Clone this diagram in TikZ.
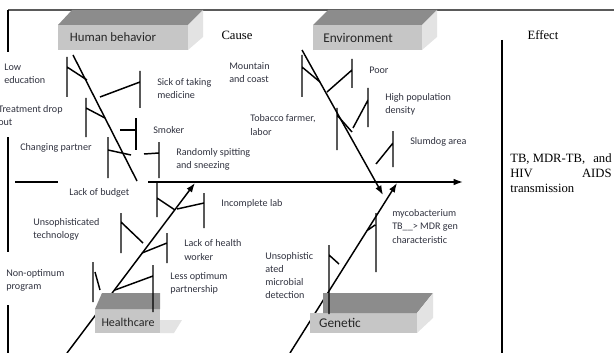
\documentclass[tikz,border=0pt]{standalone}
\usepackage{fontspec}
\setmainfont{Carlito}
\newfontfamily\timesfont{Liberation Serif}
\usepackage{xcolor}
\usepackage{tikz}
\usetikzlibrary{calc}
\usetikzlibrary{arrows.meta}
\usetikzlibrary{positioning}

\definecolor{topgray}{HTML}{8C8C8C}
\definecolor{frontgray}{HTML}{C6C6C6}
\definecolor{sidegray}{HTML}{E3E3E3}
\definecolor{labelblue}{HTML}{30323F}
\definecolor{framegray}{HTML}{5A5A5A}

\begin{document}
\begin{tikzpicture}[x=0.75pt,y=-0.75pt]
% 1 = one pixel of the reference, y going down
    \def\YSPINE{182}
    \def\XFRAME{8}
    \def\XEFFECT{502}

    \tikzset{
      bone/.style={line width=1.1pt,color=black},
      arrowbone/.style={bone,-{Latex[length=7pt,width=5pt]}},
      framestyle/.style={line width=1.5pt,color=framegray},
      cause/.style={font=\fontsize{7.6}{9.8}\selectfont,text=labelblue,
        align=left,anchor=west,inner sep=0pt},
      boxtitle/.style={font=\fontsize{10}{12}\selectfont,text=black!85,
        inner sep=0pt},
      serifnote/.style={font=\timesfont\fontsize{9.5}{11}\selectfont,
        inner sep=0pt},
    }

    \useasboundingbox (0,0) rectangle (614,353);

    % FRAME
    \draw[framestyle] (\XFRAME,10) -- (614,10);
    \draw[framestyle,color=black] (\XFRAME,10) -- (\XFRAME,52);
    \draw[framestyle,color=black] (\XFRAME,137) -- (\XFRAME,252);
    \draw[framestyle,color=black] (\XFRAME,305) -- (\XFRAME,353);
    \draw[framestyle,color=black] (\XEFFECT,40) -- (\XEFFECT,353);

    % SPINE
    \coordinate (spinestart) at (148,\YSPINE);
    \coordinate (effecttip) at (463,\YSPINE);
    \draw[bone] (15,\YSPINE) -- (58,\YSPINE);
    \draw[arrowbone] (spinestart) -- (effecttip);

    % DIAGONALS
    \coordinate (humantop) at (73,55);
    \coordinate (humanend) at (137,181);
    \coordinate (envtop) at (302,50);
    \coordinate (envtip) at (383,195);
    \coordinate (healthfoot) at (67,353);
    \coordinate (healthtip) at (195,183);
    \coordinate (genfoot) at (290,353);
    \coordinate (gentip) at (397,183);
    \draw[bone] (humantop) -- (humanend);
    \draw[arrowbone] (envtop) -- (envtip);
    \draw[arrowbone] (healthfoot) -- (healthtip);
    \draw[arrowbone] (genfoot) -- (gentip);

    % HUMAN BEHAVIOR box
    \fill[frontgray] (58,25) rectangle (188,50);
    \fill[topgray] (58,25) -- (72,10) -- (203,10) -- (188,25) -- cycle;
    \fill[sidegray] (188,25) -- (203,10) -- (203,37) -- (188,50) -- cycle;
    \node[boxtitle,font=\fontsize{9.6}{12}\selectfont] (human) at (113,37.5) {Human behavior};

    % ENVIRONMENT box
    \fill[frontgray] (313,25) rectangle (422,50);
    \fill[topgray] (313,25) -- (328,10) -- (437,10) -- (422,25) -- cycle;
    \fill[sidegray] (422,25) -- (437,10) -- (437,37) -- (422,50) -- cycle;
    \node[boxtitle] (environment) at (358,38) {Environment};

    % HEALTHCARE box
    \fill[frontgray] (95,309) rectangle (160,333);
    \fill[topgray] (95,309) -- (102,293) -- (160,293) -- (160,309) -- cycle;
    \fill[sidegray] (160,320) -- (182,320) -- (174,333) -- (160,333) -- cycle;
    \node[boxtitle,font=\fontsize{9}{12}\selectfont] (healthcare) at (128,322) {Healthcare};

    % GENETIC box
    \fill[frontgray] (310,313) rectangle (417,333);
    \fill[topgray] (323,313) -- (323,293) -- (433,293) -- (417,313) -- cycle;
    \fill[sidegray] (417,313) -- (433,293) -- (433,318) -- (417,333) -- cycle;
    \node[boxtitle] (genetic) at (340,323) {Genetic};

    % HUMAN BEHAVIOR bones
    \draw[bone] (67,57) -- (67,97) (67,67) -- (87,80);
    \draw[bone] (140,71) -- (140,108) (100,97) -- (140,82);
    \draw[bone] (86,98) -- (86,137) (86,108) -- (105,118);
    \draw[bone] (136,118) -- (136,150) (120,130) -- (136,130);
    \draw[bone] (108,137) -- (108,178) (108,150) -- (131,155);
    \draw[bone] (159,142) -- (159,178) (144,154) -- (159,153);

    % ENVIRONMENT bones
    \draw[bone] (302,55) -- (302,97) (302,67) -- (320,82);
    \draw[bone] (352,59) -- (352,88) (327,92) -- (352,70);
    \draw[bone] (337,108) -- (337,150) (337,115) -- (352,132);
    \draw[bone] (368,88) -- (368,127) (353,128) -- (368,100);
    \draw[bone] (393,131) -- (393,167) (376,164) -- (393,143);

    % HEALTHCARE bones
    \draw[bone] (157,183) -- (157,217) (157,198) -- (175,210);
    \draw[bone] (204,193) -- (204,228) (177,209) -- (204,203);
    \draw[bone] (121,213) -- (121,253) (121,222) -- (143,243);
    \draw[bone] (167,233) -- (167,263) (142,253) -- (167,243);
    \draw[bone] (93,262) -- (93,302) (95,272) -- (100,290);
    \draw[bone] (153,265) -- (153,312) (115,290) -- (153,276);

    % GENETIC bones
    \draw[bone] (376,213) -- (376,272) (368,230) -- (375,225);
    \draw[bone] (329,245) -- (329,314) (329,255) -- (339,264);

    % CAUSE labels
    \node[cause] (loweducation) at (4,73.5) {Low\\education};
    \node[cause] (dropout) at (-2,115.5) {Treatment drop\\out};
    \node[cause] (sickmedicine) at (157,88.5) {Sick of taking\\medicine};
    \node[cause] (smoker) at (153,130) {Smoker};
    \node[cause] (partner) at (20,148) {Changing partner};
    \node[cause] (spitting) at (176,159.5) {Randomly spitting\\and sneezing};
    \node[cause] (mountain) at (229,72.5) {Mountain\\and coast};
    \node[cause] (tobacco) at (250,125) {Tobacco farmer,\\labor};
    \node[cause] (poor) at (369,70) {Poor};
    \node[cause] (density) at (385,104.5) {High population\\density};
    \node[cause] (slumdog) at (410,142) {Slumdog area};
    \node[cause] (budget) at (69,193) {Lack of budget};
    \node[cause] (lab) at (221,204) {Incomplete lab};
    \node[cause] (technology) at (33,229.5) {Unsophisticated\\technology};
    \node[cause] (worker) at (184,250) {Lack of health\\worker};
    \node[cause] (program) at (6,280) {Non-optimum\\program};
    \node[cause] (partnership) at (170,283.5) {Less optimum\\partnership};
    \node[cause] (microbial) at (265,275.5) {Unsophistic\\ated\\microbial\\detection};
    \node[cause] (myco) at (392,226.5) {mycobacterium\\TB\_\_> MDR gen\\characteristic};

    % HEADINGS
    \node[serifnote] (causehead) at (237,35) {Cause};
    \node[serifnote] (effecthead) at (543,35) {Effect};
    \node[serifnote,anchor=west] (effecttext) at (510,173)
        {\parbox{76pt}{\baselineskip=11pt TB, MDR-TB,\hfill and\\HIV\hfill AIDS\\transmission}};

\end{tikzpicture}
\end{document}
